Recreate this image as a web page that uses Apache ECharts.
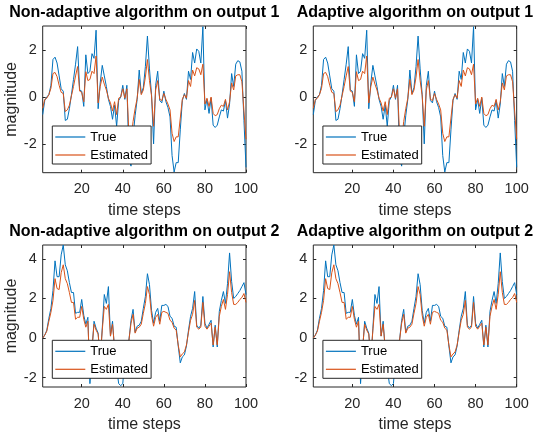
<!DOCTYPE html>
<html>
<head>
<meta charset="utf-8">
<script src="https://cdn.jsdelivr.net/npm/echarts@6/dist/echarts.min.js"></script>
<style>
  html, body { margin: 0; padding: 0; background: #ffffff; }
  #chart { width: 538px; height: 438px; }
</style>
</head>
<body>
<div id="chart"></div>
<script>
// Output 1: true signal and its estimate over 100 time steps
const trueOut1 = [
  -0.75, -0.15, 0.0, 0.1, 0.5, 1.6, 1.7, 1.45, 0.9, 0.35,
  0.25, -1.0, -0.95, -0.5, 0.1, 0.75, 1.4, 2.15, 0.3, 0.25,
  -0.4, 1.8, 1.0, 1.1, 1.85, 1.65, 2.85, -0.5, 0.6, 1.35,
  0.9, 0.45, -0.1, -0.4, -0.95, -0.35, -1.25, -0.15, 0.0, 0.5,
  -0.1, 0.5, -2.6, -2.95, -1.7, -0.8, -0.1, 1.15, 0.15, 0.4,
  1.3, 2.6, 1.2, 0.1, -2.0, 0.5, 1.1, -0.15, -0.25, 0.25,
  -0.2, -0.45, -0.85, -2.5, -3.2, -2.8, -2.8, -1.4, -0.15, 0.15,
  -0.1, 1.1, 0.75, 1.9, 1.45, 2.05, 1.95, 1.45, 3.0, -0.55,
  -0.1, -0.7, -0.05, -1.2, -1.3, -1.2, -0.85, -0.55, -0.6, -0.15,
  -0.9, -0.3, 1.0, 0.45, 1.4, 1.55, 1.5, 1.1, -1.0, -3.0
];
const estOut1 = [
  -0.48, -0.1, -0.05, 0.1, 0.37, 1.0, 1.05, 0.87, 0.5, 0.2,
  0.15, -0.62, -0.55, -0.35, 0.05, 0.45, 0.9, 1.3, 0.25, 0.2,
  -0.2, 1.08, 0.7, 0.75, 1.1, 1.0, 1.75, -0.25, 0.45, 0.85,
  0.55, 0.3, -0.05, -0.25, -0.6, -0.2, -0.75, -0.05, 0.0, 0.35,
  -0.05, 0.35, -1.6, -1.85, -1.05, -0.5, -0.05, 0.75, 0.1, 0.3,
  0.85, 1.6, 0.7, 0.05, -1.25, 0.3, 0.7, -0.1, -0.15, 0.15,
  -0.1, -0.3, -0.55, -1.55, -1.9, -1.7, -1.7, -0.9, -0.1, 0.1,
  -0.05, 0.7, 0.45, 1.15, 0.9, 1.25, 1.2, 0.95, 1.4, -0.3,
  -0.05, -0.4, 0.0, -0.7, -0.8, -0.75, -0.5, -0.35, -0.4, -0.1,
  -0.55, -0.2, 0.6, 0.3, 0.9, 0.95, 0.95, 0.65, -0.6, -1.8
];

// Output 2: true signal and its estimate over 100 time steps
const trueOut2 = [
  0.0, 0.15, 0.4, 1.0, 1.5, 2.4, 3.9, 3.1, 3.1, 4.2,
  4.7, 3.7, 3.4, 2.8, 2.3, 2.3, 1.25, 1.3, 1.3, 1.95,
  1.15, 0.7, 1.05, -2.3, -0.6, 0.85, 0.5, 0.25, -1.2, 0.5,
  2.2, 1.75, 2.6, 0.1, 0.85, -0.6, -1.5, -2.3, -2.4, -2.3,
  -1.0, -0.3, -0.1, 0.9, 1.45, 0.3, 0.6, 0.65, 0.85, 1.5,
  2.1, 3.25, 2.7, 1.4, 0.75, 1.3, 1.5, 0.85, 1.65, 1.65,
  1.7, 1.6, 1.1, 1.0, 0.6, 0.55, -0.4, -1.25, -0.95, -0.85,
  -0.4, 0.4, 1.1, 1.5, 2.35, 0.65, 0.5, 0.65, 2.1, 0.75,
  0.5, 0.7, 0.9, -0.45, 0.65, -0.45, 1.35, 1.9, 2.35, 1.75,
  2.75, 4.3, 2.85, 2.0, 2.1, 2.25, 2.4, 2.6, 2.8, 2.2
];
const estOut2 = [
  0.0, 0.15, 0.35, 0.85, 1.3, 1.9, 3.0, 2.5, 2.45, 3.3,
  3.7, 3.0, 2.75, 2.3, 1.8, 1.8, 0.95, 1.05, 1.05, 1.6,
  0.95, 0.55, 0.85, -1.9, -0.5, 0.7, 0.4, 0.2, -1.0, 0.4,
  1.6, 1.45, 1.7, 0.1, 0.7, -0.5, -1.2, -1.9, -2.0, -1.9,
  -0.8, -0.25, -0.1, 0.75, 1.2, 0.25, 0.5, 0.55, 0.7, 1.25,
  1.75, 2.6, 2.2, 1.15, 0.6, 1.05, 1.2, 0.7, 1.3, 1.35,
  1.3, 1.25, 0.9, 0.8, 0.5, 0.4, -0.35, -0.95, -0.8, -0.7,
  -0.35, 0.3, 0.9, 1.2, 1.9, 0.55, 0.45, 0.55, 1.8, 0.6,
  0.45, 0.6, 0.75, -0.35, 0.55, -0.35, 1.1, 1.6, 1.95, 1.45,
  2.2, 3.35, 2.3, 1.7, 1.7, 1.8, 1.95, 2.05, 2.25, 1.8
];

const panelTitles = [
  'Non-adaptive algorithm on output 1',
  'Adaptive algorithm on output 1',
  'Non-adaptive algorithm on output 2',
  'Adaptive algorithm on output 2'
];
const seriesNames = ['True', 'Estimated'];
const xTicks = [20, 40, 60, 80, 100];
const yTicksOut1 = [-2, 0, 2];
const yTicksOut2 = [-2, 0, 2, 4];
const xRange = [1, 100];
const yRangeOut1 = [-3.23, 3.03];
const yRangeOut2 = [-2.47, 4.7];

// Panel layout (pixels) and which data each panel shows
const panels = [
  { left: 42.7,  top: 26,  width: 203.3, height: 146.7, vals: [trueOut1, estOut1], yTicks: yTicksOut1, yRange: yRangeOut1 },
  { left: 313.3, top: 26,  width: 203.4, height: 146.7, vals: [trueOut1, estOut1], yTicks: yTicksOut1, yRange: yRangeOut1 },
  { left: 42.7,  top: 245, width: 203.3, height: 142,   vals: [trueOut2, estOut2], yTicks: yTicksOut2, yRange: yRangeOut2 },
  { left: 313.3, top: 245, width: 203.4, height: 142,   vals: [trueOut2, estOut2], yTicks: yTicksOut2, yRange: yRangeOut2 }
];

const AXIS_COLOR = '#262626';
const LINE_COLORS = ['#0072BD', '#D95319'];
const FONT = "'Liberation Sans', Arial, Helvetica, sans-serif";

const grid = [], xAxis = [], yAxis = [], series = [], legend = [], graphic = [];

panels.forEach((p, i) => {
  grid.push({
    left: p.left, top: p.top, width: p.width, height: p.height,
    show: true, borderColor: AXIS_COLOR, borderWidth: 1, backgroundColor: '#ffffff'
  });

  const tickStyle = { inside: true, length: 3, lineStyle: { color: AXIS_COLOR, width: 1 } };
  const hiddenLine = { show: false, onZero: false };

  // bottom axis with labels, top axis with ticks only
  xAxis.push({
    type: 'value', gridIndex: i, position: 'bottom', min: xRange[0], max: xRange[1],
    axisLine: hiddenLine, splitLine: { show: false },
    axisTick: Object.assign({ customValues: xTicks }, tickStyle),
    axisLabel: { customValues: xTicks, color: AXIS_COLOR, fontSize: 14.5, fontFamily: FONT, margin: 9 },
    name: 'time steps', nameLocation: 'middle', nameGap: 30,
    nameTextStyle: { color: AXIS_COLOR, fontSize: 16, fontFamily: FONT }
  });
  xAxis.push({
    type: 'value', gridIndex: i, position: 'top', min: xRange[0], max: xRange[1],
    axisLine: hiddenLine, splitLine: { show: false },
    axisTick: Object.assign({ customValues: xTicks }, tickStyle),
    axisLabel: { show: false }
  });

  // left axis with labels, right axis with ticks only
  const leftY = {
    type: 'value', gridIndex: i, position: 'left', min: p.yRange[0], max: p.yRange[1],
    axisLine: hiddenLine, splitLine: { show: false },
    axisTick: Object.assign({ customValues: p.yTicks }, tickStyle),
    axisLabel: { customValues: p.yTicks, color: AXIS_COLOR, fontSize: 14.5, fontFamily: FONT, margin: 6 }
  };
  if (i % 2 === 0) {
    leftY.name = 'magnitude';
    leftY.nameLocation = 'middle';
    leftY.nameGap = 22;
    leftY.nameTextStyle = { color: AXIS_COLOR, fontSize: 16, fontFamily: FONT };
  }
  yAxis.push(leftY);
  yAxis.push({
    type: 'value', gridIndex: i, position: 'right', min: p.yRange[0], max: p.yRange[1],
    axisLine: hiddenLine, splitLine: { show: false },
    axisTick: Object.assign({ customValues: p.yTicks }, tickStyle),
    axisLabel: { show: false }
  });

  p.vals.forEach((vals, k) => {
    series.push({
      name: seriesNames[k], type: 'line',
      xAxisIndex: 2 * i, yAxisIndex: 2 * i,
      data: vals.map((v, j) => [j + 1, v]),
      showSymbol: false, symbol: 'none', clip: true,
      lineStyle: { color: LINE_COLORS[k], width: 1 },
      itemStyle: { color: LINE_COLORS[k] },
      emphasis: { disabled: true }, animation: false
    });
  });

  legend.push({
    data: seriesNames, orient: 'vertical',
    left: p.left + 9.6, top: p.top + p.height - 46.7,
    icon: 'rect', itemWidth: 30, itemHeight: 1.2, itemGap: 4,
    padding: [4, 3, 2, 3],
    backgroundColor: '#ffffff', borderColor: AXIS_COLOR, borderWidth: 1,
    textStyle: { color: '#000000', fontSize: 13, fontFamily: FONT, lineHeight: 14 },
    selectedMode: false
  });

  graphic.push({
    type: 'text',
    x: p.left + p.width / 2, y: p.top - 13,
    style: {
      text: panelTitles[i], fill: '#000000', font: "bold 16px 'Liberation Sans', Arial, sans-serif",
      align: 'center', verticalAlign: 'middle'
    }
  });
});

const chart = echarts.init(document.getElementById('chart'), null, { renderer: 'canvas' });
chart.setOption({
  backgroundColor: '#ffffff',
  animation: false,
  grid, xAxis, yAxis, series, legend, graphic
});
</script>
</body>
</html>
